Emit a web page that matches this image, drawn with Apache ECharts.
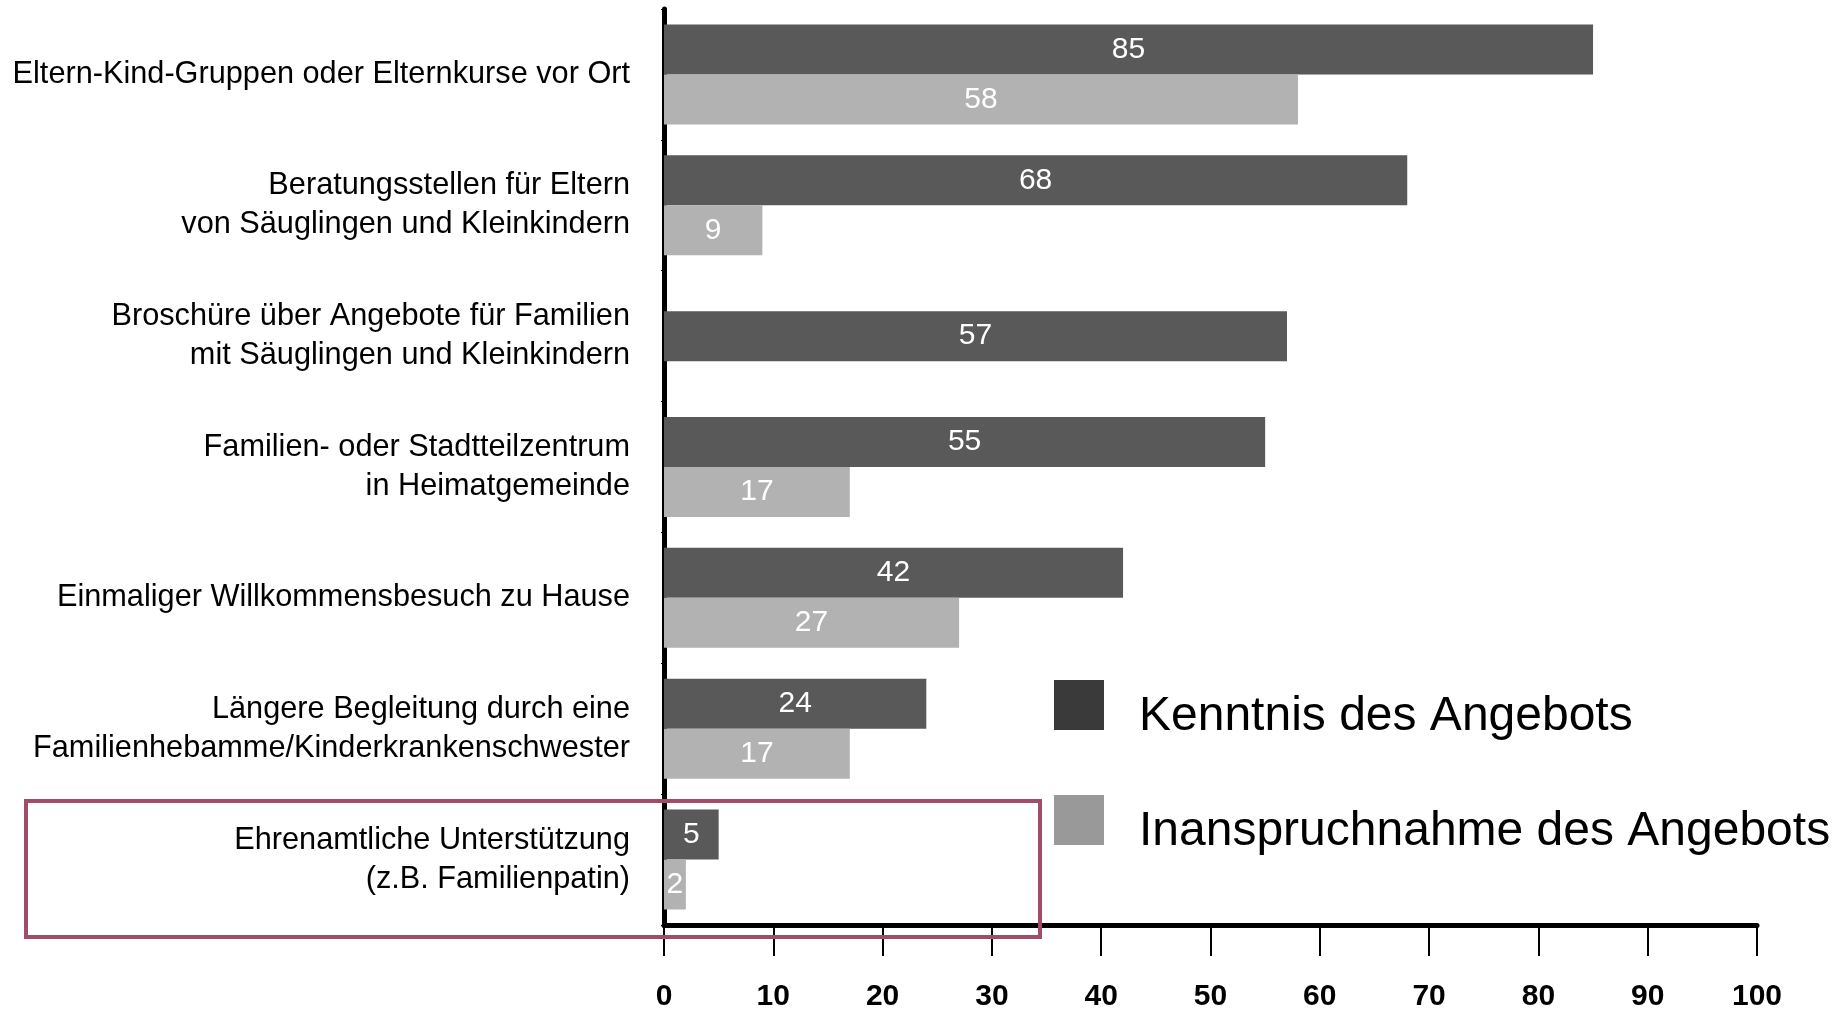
<!DOCTYPE html>
<html>
<head>
<meta charset="utf-8">
<script src="https://cdn.jsdelivr.net/npm/echarts@6/dist/echarts.min.js"></script>
<style>
  html, body { margin: 0; padding: 0; background: #fff; }
  #chart { width: 1837px; height: 1012px; }
</style>
</head>
<body>
<div id="chart"></div>
<script>
(function () {
  var myChart = echarts.init(document.getElementById("chart"));

  const categories = [
    "Eltern-Kind-Gruppen oder Elternkurse vor Ort",
    "Beratungsstellen für Eltern\nvon Säuglingen und Kleinkindern",
    "Broschüre über Angebote für Familien\nmit Säuglingen und Kleinkindern",
    "Familien- oder Stadtteilzentrum\nin Heimatgemeinde",
    "Einmaliger Willkommensbesuch zu Hause",
    "Längere Begleitung durch eine\nFamilienhebamme/Kinderkrankenschwester",
    "Ehrenamtliche Unterstützung\n(z.B. Familienpatin)",
  ];
  // Kenntnis / Inanspruchnahme; Broschüre hat nur einen Balken (mittig)
  const kenntnis = [85, 68, null, 55, 42, 24, 5];
  const inanspruchnahme = [58, 9, null, 17, 27, 17, 2];
  const kenntnisSingle = [null, null, 57, null, null, null, null];
  const seriesNames = ["Kenntnis des Angebots", "Inanspruchnahme des Angebots"];
  const xTicks = { min: 0, max: 100, interval: 10 };

  const font = "Liberation Sans, Arial, sans-serif";

  const barLabel = {
    show: true,
    position: "inside",
    color: "#fff",
    fontSize: 30,
    fontFamily: font,
  };

  option = {
    backgroundColor: "#fff",
    animation: false,
    grid: {
      left: 664,
      right: 80,
      top: 9,
      bottom: 84,
    },
    legend: {
      orient: "vertical",
      left: 1054,
      top: 680,
      padding: 0,
      icon: "rect",
      itemWidth: 50,
      itemHeight: 50,
      itemGap: 54,
      formatter: function (name) {
        return "{t|" + name + "}";
      },
      textStyle: {
        color: "#000",
        fontFamily: font,
        padding: [0, 0, 0, 30],
        rich: {
          t: {
            fontSize: 48,
            color: "#000",
            fontFamily: font,
            lineHeight: 72,
            verticalAlign: "bottom",
          },
        },
      },
      data: [
        { name: seriesNames[0], itemStyle: { color: "#3a3a3a" } },
        { name: seriesNames[1], itemStyle: { color: "#999999" } },
      ],
    },
    xAxis: {
      type: "value",
      min: xTicks.min,
      max: xTicks.max,
      interval: xTicks.interval,
      splitLine: { show: false },
      axisLine: { show: true, lineStyle: { color: "#000", width: 5 } },
      axisTick: { show: true, length: 31, lineStyle: { color: "#000", width: 2 } },
      axisLabel: {
        margin: 57,
        color: "#000",
        fontSize: 30,
        fontWeight: "bold",
        fontFamily: "Liberation Sans Narrow, Liberation Sans, Arial, sans-serif",
      },
    },
    yAxis: [
      {
        type: "category",
        inverse: true,
        data: categories,
        axisLine: { show: true, lineStyle: { color: "#000", width: 5 } },
        axisTick: { show: true, length: 3, lineStyle: { color: "#000", width: 1 } },
        axisLabel: {
          margin: 34,
          color: "#000",
          fontSize: 30.7,
          lineHeight: 39,
          fontFamily: font,
          align: "right",
        },
      },
      {
        type: "category",
        inverse: true,
        data: categories,
        position: "left",
        show: false,
      },
    ],
    series: [
      {
        name: seriesNames[0],
        type: "bar",
        yAxisIndex: 0,
        barWidth: 50,
        barGap: "0%",
        itemStyle: { color: "#595959" },
        label: barLabel,
        data: kenntnis,
      },
      {
        name: seriesNames[1],
        type: "bar",
        yAxisIndex: 0,
        barWidth: 50,
        barGap: "0%",
        itemStyle: { color: "#b2b2b2" },
        label: barLabel,
        data: inanspruchnahme,
      },
      {
        name: seriesNames[0],
        type: "bar",
        yAxisIndex: 1,
        barWidth: 50,
        itemStyle: { color: "#595959" },
        label: barLabel,
        data: kenntnisSingle,
      },
    ],
    graphic: [
      {
        type: "rect",
        z: 100,
        shape: { x: 26, y: 801, width: 1014, height: 136 },
        style: { fill: "none", stroke: "#a24d68", lineWidth: 4 },
      },
    ],
  };

  myChart.setOption(option, true);

  window.onresize = function () {
    myChart.resize();
  };
})();
</script>
</body>
</html>
